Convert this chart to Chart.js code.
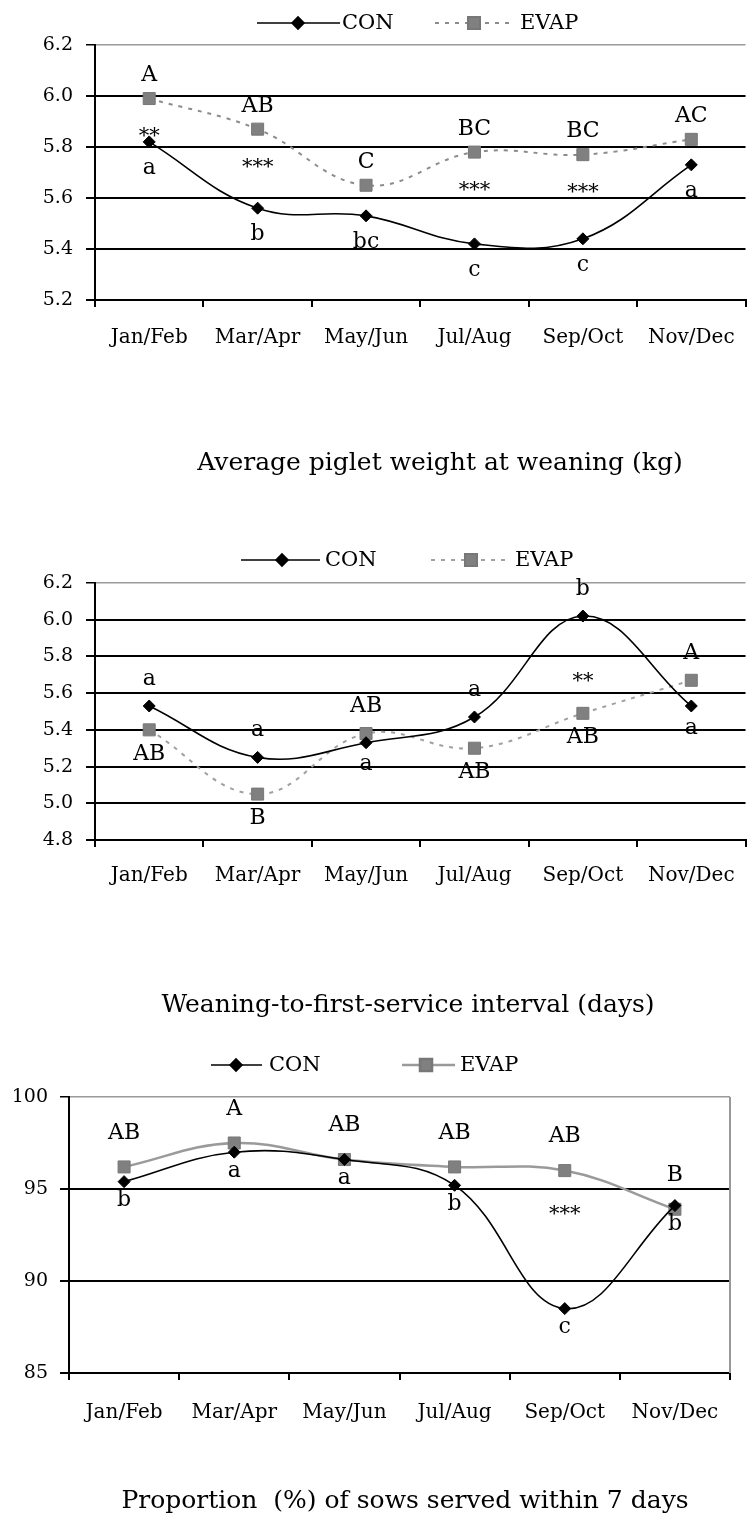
<!DOCTYPE html>
<html>
<head>
<meta charset="utf-8">
<script src="https://cdn.jsdelivr.net/npm/chart.js@4/dist/chart.umd.min.js"></script>
<style>
  html, body { margin: 0; padding: 0; background: #fff; }
  #wrap { position: relative; width: 755px; height: 1517px; overflow: hidden; }
  canvas { position: absolute; left: 0; }
</style>
</head>
<body>
<div id="wrap">
  <canvas id="c1" width="755" height="500" style="top:0px"></canvas>
  <canvas id="c2" width="755" height="530" style="top:500px"></canvas>
  <canvas id="c3" width="755" height="487" style="top:1030px"></canvas>
</div>
<script>
// ---------- DATA ----------
const categories = ['Jan/Feb', 'Mar/Apr', 'May/Jun', 'Jul/Aug', 'Sep/Oct', 'Nov/Dec'];
const seriesNames = ['CON', 'EVAP'];

// Average piglet weight at weaning (kg)
const weanCon  = [5.82, 5.56, 5.53, 5.42, 5.44, 5.73];
const weanEvap = [5.99, 5.87, 5.65, 5.78, 5.77, 5.83];
const weanConLetters  = ['a', 'b', 'bc', 'c', 'c', 'a'];
const weanEvapLetters = ['A', 'AB', 'C', 'BC', 'BC', 'AC'];
const weanStars = ['**', '***', '', '***', '***', ''];
const weanTicks = { min: 5.2, max: 6.2, step: 0.2 };

// Weaning-to-first-service interval (days)
const wsiCon  = [5.53, 5.25, 5.33, 5.47, 6.02, 5.53];
const wsiEvap = [5.40, 5.05, 5.38, 5.30, 5.49, 5.67];
const wsiConLetters  = ['a', 'a', 'a', 'a', 'b', 'a'];
const wsiEvapLetters = ['AB', 'B', 'AB', 'AB', 'AB', 'A'];
const wsiStars = ['', '', '', '', '**', ''];
const wsiTicks = { min: 4.8, max: 6.2, step: 0.2 };

// Proportion (%) of sows served within 7 days
const servedCon  = [95.4, 97.0, 96.6, 95.2, 88.5, 94.1];
const servedEvap = [96.2, 97.5, 96.6, 96.2, 96.0, 93.9];
const servedConLetters  = ['b', 'a', 'a', 'b', 'c', 'b'];
const servedEvapLetters = ['AB', 'A', 'AB', 'AB', 'AB', 'B'];
const servedStars = ['', '', '', '', '***', ''];
const servedTicks = { min: 85, max: 100, step: 5 };

const titles = [
  'Average piglet weight at weaning (kg)',
  'Weaning-to-first-service interval (days)',
  'Proportion  (%) of sows served within 7 days'
];

// label placement (-1 above the point, +1 below)
const weanConSide  = [1, 1, 1, 1, 1, 1];
const weanEvapSide = [-1, -1, -1, -1, -1, -1];
const wsiConSide   = [-1, -1, 1, -1, -1, 1];
const wsiEvapSide  = [1, 1, -1, 1, 1, -1];
const servedConSide  = [1, 1, 1, 1, 1, 1];
const servedEvapSide = [-1, -1, -1, -1, -1, -1];

// ---------- STYLE / RENDER ----------
const FONT = "'DejaVu Serif', 'Liberation Serif', serif";
Chart.defaults.font.family = FONT;
Chart.defaults.color = '#000';

function legendPlugin(cfg) {
  return {
    id: 'customLegend',
    afterDraw(chart) {
      const ctx = chart.ctx;
      ctx.save();
      chart.data.datasets.forEach((ds, i) => {
        const it = cfg.items[i];
        ctx.beginPath();
        ctx.setLineDash(ds.borderDash || []);
        ctx.strokeStyle = ds.borderColor;
        ctx.lineWidth = ds.borderWidth;
        ctx.moveTo(it.x0, cfg.y);
        ctx.lineTo(it.x1, cfg.y);
        ctx.stroke();
        ctx.setLineDash([]);
        ctx.fillStyle = ds.pointBackgroundColor;
        ctx.strokeStyle = ds.pointBorderColor;
        Chart.helpers.drawPoint(ctx, {
          pointStyle: ds.pointStyle, radius: ds.pointRadius, rotation: 0, borderWidth: 1
        }, it.mx, cfg.y);
        ctx.fillStyle = '#000';
        ctx.font = '21px ' + FONT;
        ctx.textAlign = 'left';
        ctx.textBaseline = 'middle';
        ctx.fillText(ds.label, it.tx, cfg.y + 1);
      });
      ctx.restore();
    }
  };
}

function titlePlugin(cfg) {
  return {
    id: 'customTitle',
    afterDraw(chart) {
      const ctx = chart.ctx;
      ctx.save();
      ctx.fillStyle = '#000';
      ctx.font = '25px ' + FONT;
      ctx.textAlign = 'center';
      ctx.textBaseline = 'middle';
      ctx.fillText(cfg.text, cfg.cx, cfg.cy);
      ctx.restore();
    }
  };
}

function annotPlugin(cfg) {
  return {
    id: 'annot',
    afterDatasetsDraw(chart) {
      const ctx = chart.ctx;
      const con = chart.getDatasetMeta(0).data;
      const ev = chart.getDatasetMeta(1).data;
      ctx.save();
      ctx.fillStyle = '#000';
      ctx.textAlign = 'center';
      ctx.textBaseline = 'middle';
      ctx.font = '22px ' + FONT;
      cfg.conLetters.forEach((t, i) => {
        if (!t) return;
        ctx.fillText(t, con[i].x, con[i].y + cfg.conSide[i] * (cfg.conSide[i] > 0 ? cfg.below : cfg.above));
      });
      cfg.evapLetters.forEach((t, i) => {
        if (!t) return;
        ctx.fillText(t, ev[i].x, ev[i].y + cfg.evapSide[i] * (cfg.evapSide[i] > 0 ? cfg.belowE : cfg.aboveE));
      });
      ctx.font = '21px ' + FONT;
      cfg.stars.forEach((t, i) => {
        if (!t) return;
        const dir = Math.sign(con[i].y - ev[i].y) || 1;
        ctx.fillText(t, ev[i].x, ev[i].y + dir * cfg.starOff + 6);
      });
      ctx.restore();
    }
  };
}

const rightBorder = {
  id: 'rightBorder',
  afterDraw(chart) {
    const a = chart.chartArea, ctx = chart.ctx;
    ctx.save();
    ctx.strokeStyle = '#999';
    ctx.lineWidth = 2;
    ctx.beginPath();
    ctx.moveTo(a.right, a.top);
    ctx.lineTo(a.right, a.bottom);
    ctx.stroke();
    ctx.restore();
  }
};

function makeChart(id, opt) {
  const conDs = {
    label: seriesNames[0], data: opt.con,
    borderColor: '#000', borderWidth: 1.6, tension: 0.4,
    pointStyle: 'rectRot', pointRadius: 6, pointBackgroundColor: '#000', pointBorderColor: '#000',
    pointBorderWidth: 1, order: 0
  };
  const evDs = {
    label: seriesNames[1], data: opt.evap,
    borderColor: opt.evapColor, borderWidth: opt.evapWidth, borderDash: opt.evapDash, tension: 0.4,
    pointStyle: 'rect', pointRadius: 8.5, pointBackgroundColor: '#808080', pointBorderColor: '#777',
    pointBorderWidth: 1, order: 1
  };
  return new Chart(document.getElementById(id), {
    type: 'line',
    data: { labels: categories, datasets: [conDs, evDs] },
    options: {
      responsive: false, animation: false, devicePixelRatio: 1,
      layout: { padding: { top: opt.top, right: opt.right, bottom: opt.bottom, left: 0 } },
      plugins: {
        legend: { display: false },
        tooltip: { enabled: false },
        title: { display: false }
      },
      scales: {
        x: {
          type: 'category', offset: true,
          grid: { offset: true, drawOnChartArea: false, color: '#000', lineWidth: 2, tickLength: 7 },
          border: { color: '#000', width: 2 },
          ticks: { font: { family: FONT, size: 20 }, color: '#000', padding: opt.xPad, maxRotation: 0, autoSkip: false },
          afterFit(s) { s.height = 60; s.paddingLeft = 0; s.paddingRight = 0; }
        },
        y: {
          min: opt.ticks.min, max: opt.ticks.max,
          grid: {
            color: c => (c.tick && Math.abs(c.tick.value - opt.ticks.max) < 1e-6) ? '#9a9a9a' : '#000',
            tickColor: '#000',
            lineWidth: c => (c.tick && Math.abs(c.tick.value - opt.ticks.max) < 1e-6) ? 1.5 : 2,
            tickLength: 9
          },
          border: { color: '#000', width: 2 },
          ticks: {
            stepSize: opt.ticks.step, font: { family: FONT, size: 19 }, color: '#000', padding: opt.yPad,
            callback: v => opt.decimals ? Number(v).toFixed(1) : String(Math.round(v))
          },
          afterFit(s) { s.width = opt.left; }
        }
      }
    },
    plugins: [legendPlugin(opt.legend), annotPlugin(opt.annot), titlePlugin(opt.titleCfg)].concat(opt.extra || [])
  });
}

makeChart('c1', {
  con: weanCon, evap: weanEvap, ticks: weanTicks, decimals: true,
  top: 45, right: 0, bottom: 140, left: 95, xPad: 19, yPad: 13,
  titleCfg: { text: titles[0], cx: 440, cy: 463 },
  evapColor: '#8c8c8c', evapWidth: 2, evapDash: [4, 6],
  legend: { y: 23, items: [{ x0: 257, x1: 340, mx: 298, tx: 342 }, { x0: 435, x1: 512, mx: 474, tx: 520 }] },
  annot: { conLetters: weanConLetters, evapLetters: weanEvapLetters, stars: weanStars,
           conSide: weanConSide, evapSide: weanEvapSide, above: 26, below: 26, aboveE: 23, belowE: 25, starOff: 32 }
});

makeChart('c2', {
  con: wsiCon, evap: wsiEvap, ticks: wsiTicks, decimals: true,
  top: 83, right: 0, bottom: 130, left: 95, xPad: 17, yPad: 13,
  titleCfg: { text: titles[1], cx: 408, cy: 505 },
  evapColor: '#a0a0a0', evapWidth: 2, evapDash: [4, 6],
  legend: { y: 60, items: [{ x0: 241, x1: 320, mx: 282, tx: 325 }, { x0: 431, x1: 505, mx: 471, tx: 515 }] },
  annot: { conLetters: wsiConLetters, evapLetters: wsiEvapLetters, stars: wsiStars,
           conSide: wsiConSide, evapSide: wsiEvapSide, above: 27, below: 22, aboveE: 27, belowE: 24, starOff: 38 }
});

makeChart('c3', {
  con: servedCon, evap: servedEvap, ticks: servedTicks, decimals: false,
  top: 67, right: 25, bottom: 84, left: 69, xPad: 21, yPad: 12,
  titleCfg: { text: titles[2], cx: 405, cy: 471 },
  evapColor: '#9a9a9a', evapWidth: 2.5, evapDash: [],
  legend: { y: 35, items: [{ x0: 211, x1: 262, mx: 236, tx: 269 }, { x0: 402, x1: 455, mx: 426, tx: 460 }] },
  annot: { conLetters: servedConLetters, evapLetters: servedEvapLetters, stars: servedStars,
           conSide: servedConSide, evapSide: servedEvapSide, above: 20, below: 19, aboveE: 34, belowE: 20, starOff: 38 },
  extra: [rightBorder]
});
</script>
</body>
</html>
